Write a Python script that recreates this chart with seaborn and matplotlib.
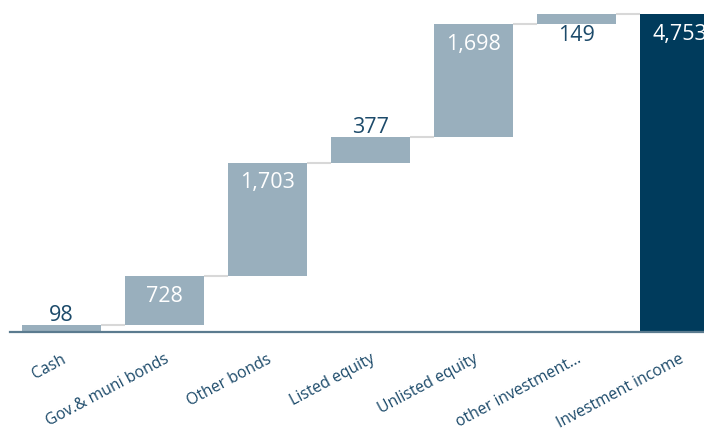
import numpy as np
import pandas as pd
import matplotlib
matplotlib.use("Agg")
import matplotlib.pyplot as plt
import seaborn as sns

# Contributions to investment income, followed by the total
categories = [
    "Cash",
    "Gov.& muni bonds",
    "Other bonds",
    "Listed equity",
    "Unlisted equity",
    "other investment...",
    "Investment income",
]
contributions = [98, 728, 1703, 377, 1698, 149]
total_value = 4753

STEP_COLOR = "#99afbd"
TOTAL_COLOR = "#003b5c"
TEXT_DARK = "#1c4a6a"
AXIS_COLOR = "#5b7b8f"
CONNECTOR_COLOR = "#d8d8d8"
BAR_WIDTH = 0.766

sns.set_theme(style="white")
plt.rcParams["font.family"] = ["Open Sans", "DejaVu Sans"]

levels = np.cumsum(contributions)
bottoms = np.concatenate([[0], levels[:-1], [0]])
heights = np.array(contributions + [total_value])

df = pd.DataFrame({"category": categories, "height": heights})

fig = plt.figure(figsize=(7.04, 4.36), dpi=100)
left = 9.5 / 704
base = (436 - 331.7) / 436
ax = fig.add_axes([left, base, 1 - left, 1 - base])

sns.barplot(
    data=df, x="category", y="height", bottom=bottoms,
    color=STEP_COLOR, saturation=1, width=BAR_WIDTH,
    errorbar=None, linewidth=0, ax=ax,
)
ax.patches[-1].set_facecolor(TOTAL_COLOR)

# Connectors between consecutive bars at the running level
for i, lvl in enumerate(levels):
    ax.plot([i + BAR_WIDTH / 2, i + 1 - BAR_WIDTH / 2], [lvl, lvl],
            color=CONNECTOR_COLOR, lw=1.5, zorder=1, solid_capstyle="butt")

ymax = 4963
ax.set_ylim(0, ymax)
ax.set_xlim(-0.5, 6 + (704 - 679.5) / 103.08)

# Value labels
for i, (h, b) in enumerate(zip(heights, bottoms)):
    top = b + h
    txt = f"{int(h):,}"
    if h > 500:
        ax.annotate(txt, (i, top), xytext=(0, -7), textcoords="offset points",
                    ha="center", va="top", color="white", fontsize=15.5,
                    annotation_clip=False)
    elif top + 450 < ymax:
        ax.annotate(txt, (i, top), xytext=(0, 3), textcoords="offset points",
                    ha="center", va="baseline", color=TEXT_DARK, fontsize=15.5)
    else:
        ax.annotate(txt, (i, b), xytext=(0, -1), textcoords="offset points",
                    ha="center", va="top", color=TEXT_DARK, fontsize=15.5)

for s in ["top", "right", "left"]:
    ax.spines[s].set_visible(False)
ax.spines["bottom"].set_color(AXIS_COLOR)
ax.spines["bottom"].set_linewidth(1.6)
ax.set_yticks([])
ax.set_xlabel("")
ax.set_ylabel("")
ax.tick_params(axis="x", length=0, pad=14, labelsize=11.3, labelcolor=TEXT_DARK)
for lab in ax.get_xticklabels():
    lab.set_rotation(28)
    lab.set_ha("right")
    lab.set_va("top")
    lab.set_rotation_mode("anchor")

fig.savefig("out.png", dpi=100)
